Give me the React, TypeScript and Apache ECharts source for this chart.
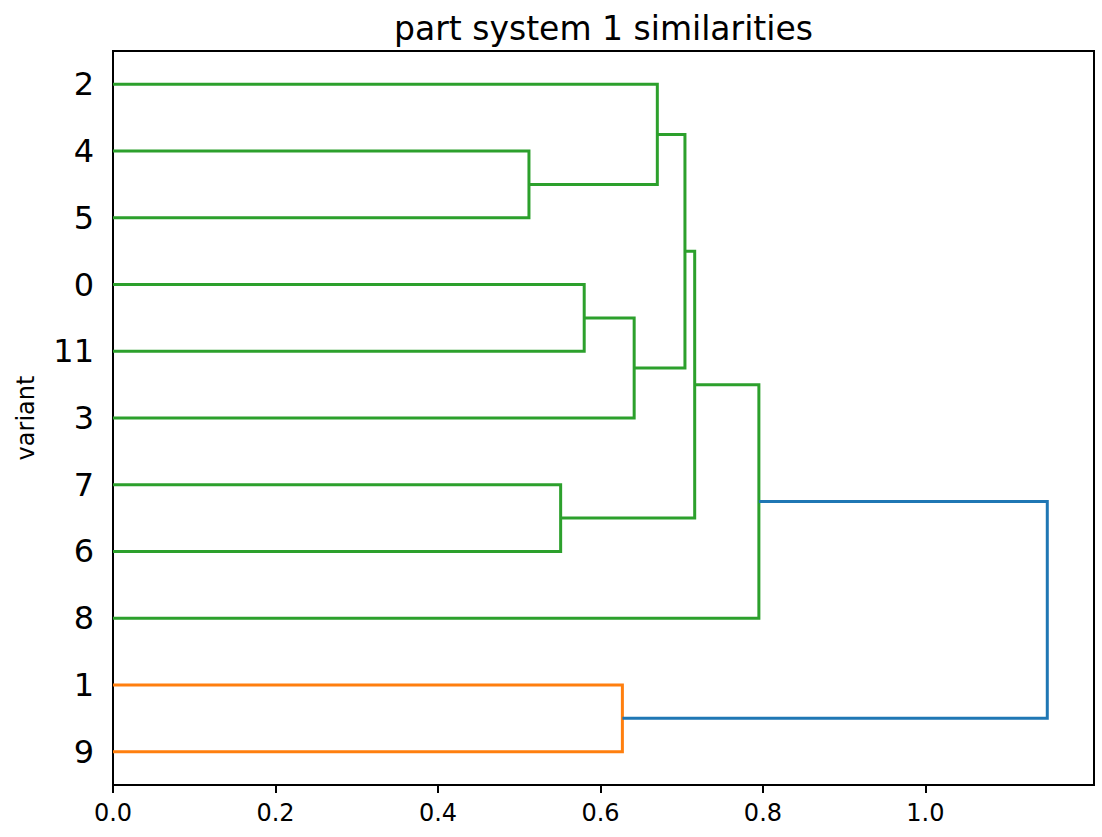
import React, { useEffect, useRef } from "react";
import * as echarts from "echarts";

// Leaves, listed from top to bottom as in the picture
const leafOrder = ["2", "4", "5", "0", "11", "3", "7", "6", "8", "1", "9"];

// Linkage: each merge joins nodeA and nodeB at a height; merged node is "m<index>"
const mergeA = ["4", "2", "0", "m2", "m1", "7", "m4", "m6", "1", "m7"];
const mergeB = ["5", "m0", "11", "3", "m3", "6", "m5", "8", "9", "m8"];
const mergeHeights = [0.512, 0.670, 0.580, 0.6415, 0.704, 0.551, 0.716, 0.795, 0.627, 1.150];
const mergeCluster = ["C2", "C2", "C2", "C2", "C2", "C2", "C2", "C2", "C1", "C0"];

// X tick values
const xTicks = [0.0, 0.2, 0.4, 0.6, 0.8, 1.0];

const palette: Record<string, string> = { C0: "#1f77b4", C1: "#ff7f0e", C2: "#2ca02c" };
const FONT = "DejaVu Sans";

export default function App() {
  const ref = useRef<HTMLDivElement>(null);
  useEffect(() => {
    const chart = echarts.init(ref.current!, null, { renderer: "svg" });

    const n = leafOrder.length;
    const yMax = n * 10;
    // leaf positions as in scipy: 5, 15, 25 ... (bottom leaf lowest)
    const pos: Record<string, number> = {};
    const height: Record<string, number> = {};
    leafOrder.forEach((l, i) => {
      pos[l] = yMax - 5 - 10 * i;
      height[l] = 0;
    });
    const leafPositions = leafOrder.map((l) => pos[l]);
    const leafLabelAt: Record<string, string> = {};
    leafOrder.forEach((l) => (leafLabelAt[String(pos[l])] = l));

    const series: any[] = [];
    mergeA.forEach((a, i) => {
      const b = mergeB[i];
      const h = mergeHeights[i];
      const id = "m" + i;
      pos[id] = (pos[a] + pos[b]) / 2;
      height[id] = h;
      series.push({
        type: "line",
        data: [
          [height[a], pos[a]],
          [h, pos[a]],
          [h, pos[b]],
          [height[b], pos[b]],
        ],
        showSymbol: false,
        symbol: "none",
        clip: false,
        lineStyle: { color: palette[mergeCluster[i]], width: 3, join: "miter", cap: "butt" },
        itemStyle: { color: palette[mergeCluster[i]] },
        silent: true,
      });
    });

    const option: any = {
      animation: false,
      title: {
        text: "part system 1 similarities",
        left: 598.5,
        textAlign: "center",
        top: 7,
        textStyle: { fontFamily: FONT, fontSize: 33, fontWeight: "normal", color: "#000" },
      },
      grid: {
        left: 113,
        right: 8,
        top: 51,
        bottom: 52,
        show: true,
        borderColor: "#000",
        borderWidth: 2,
        backgroundColor: "transparent",
        containLabel: false,
        outerBoundsMode: "none",
      },
      xAxis: {
        type: "value",
        min: 0,
        max: 1.2075,
        splitLine: { show: false },
        axisLine: { show: true, lineStyle: { color: "#000", width: 2 } },
        axisTick: {
          show: true,
          customValues: xTicks,
          length: 8,
          inside: false,
          lineStyle: { color: "#000", width: 2 },
        },
        axisLabel: {
          customValues: xTicks,
          formatter: (v: number) => v.toFixed(1),
          fontSize: 24,
          fontFamily: FONT,
          color: "#000",
          margin: 16,
        },
      },
      yAxis: {
        type: "value",
        min: 0,
        max: yMax,
        splitLine: { show: false },
        axisLine: { show: true, lineStyle: { color: "#000", width: 2 } },
        axisTick: { show: false },
        axisLabel: {
          customValues: leafPositions,
          formatter: (v: number) => leafLabelAt[String(v)] ?? "",
          fontSize: 32,
          fontFamily: FONT,
          color: "#000",
          margin: 19,
        },
        name: "variant",
        nameLocation: "middle",
        nameRotate: 90,
        nameGap: 75,
        nameTextStyle: { fontFamily: FONT, fontSize: 24, color: "#000" },
      },
      series,
    };
    chart.setOption(option);
    return () => chart.dispose();
  }, []);
  return (
    <div
      ref={ref}
      style={{ position: "absolute", left: 0, top: 0, width: 1102, height: 837 }}
    />
  );
}
